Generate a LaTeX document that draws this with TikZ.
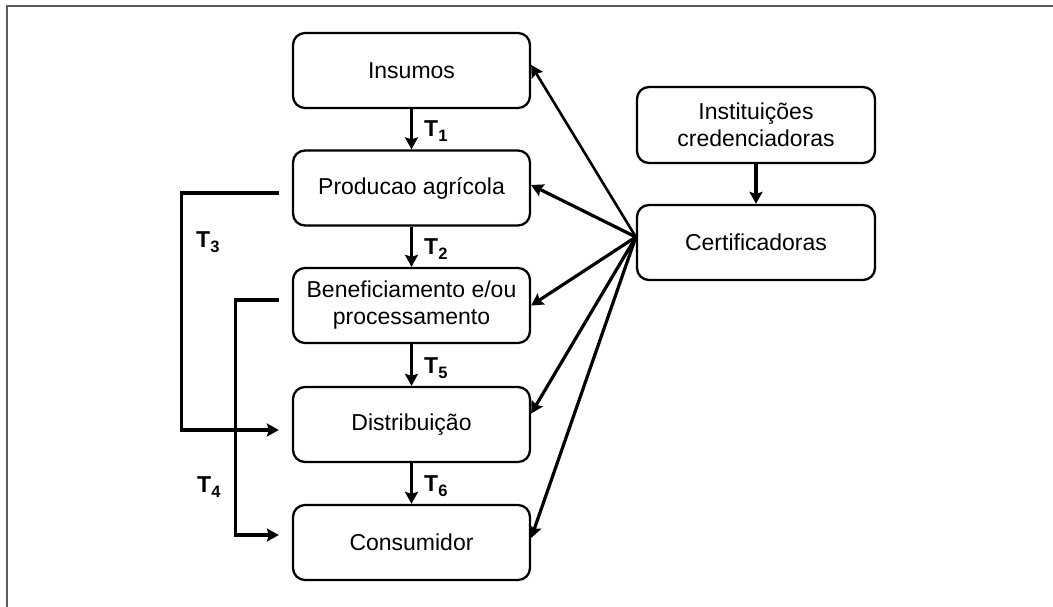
\documentclass[tikz,border=0pt]{standalone}
\usepackage{fontspec}
\setmainfont{Liberation Sans}
\usetikzlibrary{arrows.meta,calc}
\newcommand{\Tlab}[1]{\textbf{T\raisebox{-0.4ex}{\fontsize{16.5}{16.5}\selectfont\bfseries #1}}}
\tikzset{
  box/.style={draw=black, line width=2.3pt, rounded corners=12pt, minimum width=237pt, minimum height=75pt, inner sep=0pt, align=center, font=\fontsize{23}{27}\selectfont},
  arr/.style={draw=black, line width=3.2pt, -{Stealth[length=12pt,width=13pt,inset=2pt]}},
  tl/.style={font=\fontsize{23}{23}\selectfont, inner sep=0pt}
}
\begin{document}
\begin{tikzpicture}[x=1pt,y=-1pt]
\useasboundingbox (0,0) rectangle (1053,607);
\draw[color=black!65, line width=2pt] (6.5,607) -- (6.5,6.5) -- (1053,6.5);
\node[box] (ins) at (411.5,70.5) {Insumos};
\node[box] (prod) at (411.5,188) {Producao agrícola};
\node[box] (ben) at (411.5,305.5) {Beneficiamento e/ou\\processamento};
\node[box] (dis) at (411.5,424.5) {Distribuição};
\node[box] (con) at (411.5,542.5) {Consumidor};
\node[box, minimum width=238pt, minimum height=76pt] (inst) at (756,125) {Instituições\\credenciadoras};
\node[box, minimum width=238pt] (cert) at (756,242.5) {Certificadoras};
\coordinate (s) at ($(cert.west)+(0,-5.5)$);
\draw[arr] (ins.south) -- (prod.north);
\draw[arr] (prod.south) -- (ben.north);
\draw[arr] (ben.south) -- (dis.north);
\draw[arr] (dis.south) -- (con.north);
\draw[arr] (inst.south) -- (cert.north);
\draw[arr, line width=2.6pt] (s) -- ($(ins.east)+(0,-5.5)$);
\draw[arr] (s) -- ($(prod.east)+(0,-3)$);
\draw[arr] (s) -- (ben.east);
\draw[arr] (s) -- ($(dis.east)+(0,-11)$);
\draw[arr] (s) -- ($(con.east)+(0,-4.5)$);
\draw[arr] ($(prod.west)+(-13,5)$) -- ++(-97,0) |- ($(dis.west)+(-13,5.5)$);
\draw[arr] ($(ben.west)+(-13,-5.5)$) -- ++(-43,0) |- ($(con.west)+(-13,-7.5)$);
\node[tl, anchor=west] (t1) at (424,131) {\Tlab{1}};
\node[tl, anchor=west] (t2) at (424,249) {\Tlab{2}};
\node[tl, anchor=west] (t5) at (424,368) {\Tlab{5}};
\node[tl, anchor=west] (t6) at (424,486) {\Tlab{6}};
\node[tl, anchor=west] (t3) at (196,242) {\Tlab{3}};
\node[tl, anchor=west] (t4) at (197,487) {\Tlab{4}};
\end{tikzpicture}
\end{document}
